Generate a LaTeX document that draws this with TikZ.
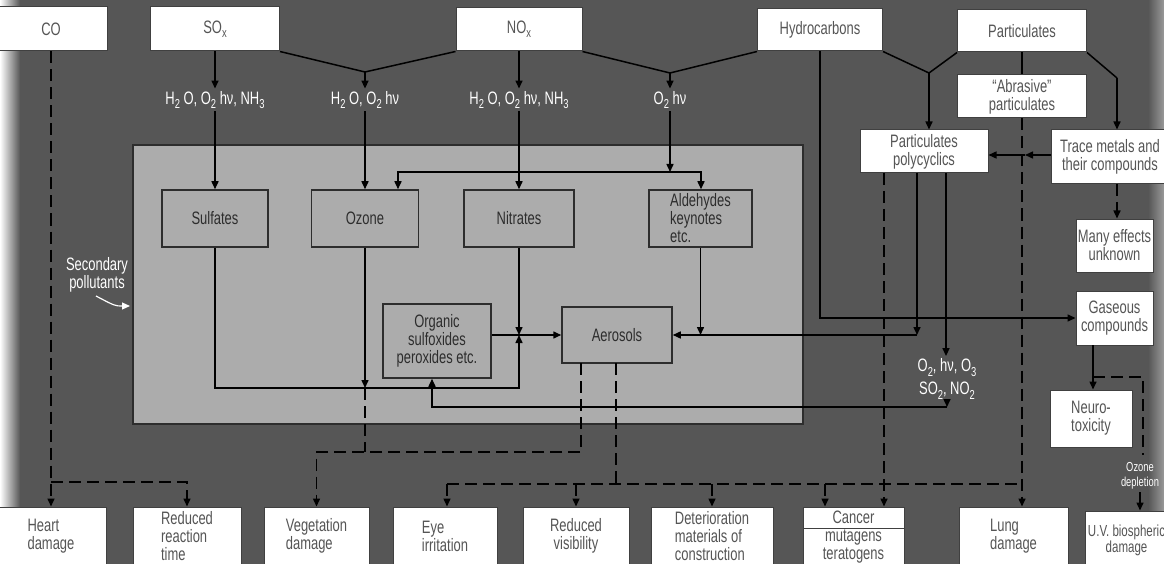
\documentclass[tikz,border=0pt]{standalone}
\usepackage{fontspec}
\setmainfont{Liberation Sans}[FakeStretch=0.72]
\usetikzlibrary{arrows.meta}
\definecolor{bgray}{RGB}{86,86,86}
\definecolor{lgray}{RGB}{172,172,172}
\definecolor{ink}{RGB}{45,45,45}
\definecolor{wink}{RGB}{85,85,85}
\newcommand{\lowsub}[1]{\raisebox{-0.45ex}{\fontsize{13}{13}\selectfont #1}}
\tikzset{every path/.style={line width=1.5pt}, >={Triangle[length=8pt,width=7pt]},
  every node/.style={font=\fontsize{18}{18}\selectfont, align=center, inner sep=0pt},
  wbox/.style={draw=black!75, line width=1pt, fill=white, text=wink},
  gbox/.style={draw=ink, line width=1.5pt, fill=lgray, text=ink},
  wlabel/.style={text=white, inner sep=2pt},
  dsh/.style={dash pattern=on 12pt off 6pt}}

\begin{document}
\begin{tikzpicture}[x=1pt, y=-1pt]
   \useasboundingbox (0,0) rectangle (1164,564);
   \fill[bgray] (0,0) rectangle (1164,564);
   \shade[left color=white, right color=bgray, draw=none] (0,0) rectangle (20,564);
   \shade[left color=bgray, right color=black!40, draw=none] (1148,0) rectangle (1164,564);

   \node[wbox, minimum width=112pt, minimum height=44pt] (co) at (51,29) {CO};
   \node[wbox, minimum width=129pt, minimum height=44pt] (sox) at (215,29) {SO\lowsub{x}};
   \node[wbox, minimum width=126pt, minimum height=43pt] (nox) at (519,29.5) {NO\lowsub{x}};
   \node[wbox, minimum width=125pt, minimum height=42pt] (hc) at (820,30) {Hydrocarbons};
   \node[wbox, minimum width=129pt, minimum height=42pt] (part) at (1022,31) {Particulates};
   \node[wbox, minimum width=129pt, minimum height=43pt] (abr) at (1022,96.5) {“Abrasive”\\particulates};
   \node[wbox, minimum width=128pt, minimum height=43pt] (poly) at (924,151.5) {Particulates\\polycyclics};
   \node[wbox, minimum width=118pt, minimum height=54pt] (trace) at (1110,157) {Trace metals and\\their compounds};
   \node[wbox, minimum width=77pt, minimum height=53pt] (many) at (1114.5,245.5) {Many effects\\unknown};
   \node[wbox, minimum width=77pt, minimum height=54pt] (gas) at (1114.5,318) {Gaseous\\compounds};
   \node[wbox, minimum width=82pt, minimum height=57pt] (neuro) at (1091,418.5) {Neuro-\\toxicity};

   \node[wlabel] (l1) at (215,100) {H\lowsub{2} O, O\lowsub{2} hν, NH\lowsub{3}};
   \node[wlabel] (l2) at (365,100) {H\lowsub{2} O, O\lowsub{2} hν};
   \node[wlabel] (l3) at (519,100) {H\lowsub{2} O, O\lowsub{2} hν, NH\lowsub{3}};
   \node[wlabel] (l4) at (670,100) {O\lowsub{2} hν};
   \node[wlabel, font=\fontsize{18}{23}\selectfont] (l5) at (947,379) {O\lowsub{2}, hν, O\lowsub{3}\\SO\lowsub{2}, NO\lowsub{2}};
   \node[wlabel] (secl) at (97,275) {Secondary\\pollutants};
   \node[wlabel, font=\fontsize{13}{15}\selectfont] (oz) at (1140,476) {Ozone\\depletion};

   \node[fill=lgray, draw=ink, line width=2pt, minimum width=670pt, minimum height=279pt] (sec) at (468,284.5) {};
   \node[gbox, minimum width=106pt, minimum height=57pt] (sulf) at (215,218.5) {Sulfates};
   \node[gbox, minimum width=107pt, minimum height=57pt] (ozone) at (365,218.5) {Ozone};
   \node[gbox, minimum width=110pt, minimum height=57pt] (nitr) at (519,218.5) {Nitrates};
   \node[gbox, minimum width=103pt, minimum height=57pt, align=left] (ald) at (700.5,218.5) {Aldehydes\\keynotes\\etc.};
   \node[gbox, minimum width=108pt, minimum height=74pt] (org) at (437,341) {Organic\\sulfoxides\\peroxides etc.};
   \node[gbox, minimum width=110pt, minimum height=56pt] (aero) at (617,335) {Aerosols};

   \node[wbox, minimum width=111pt, minimum height=58pt, align=left] (heart) at (51,536) {Heart\\damage};
   \node[wbox, minimum width=108pt, minimum height=58pt, align=left] (rrt) at (187,536) {Reduced\\reaction\\time};
   \node[wbox, minimum width=105pt, minimum height=58pt, align=left] (veg) at (316.5,536) {Vegetation\\damage};
   \node[wbox, minimum width=104pt, minimum height=58pt, align=left] (eye) at (445,536) {Eye\\irritation};
   \node[wbox, minimum width=106pt, minimum height=58pt] (vis) at (576,536) {Reduced\\visibility};
   \node[wbox, minimum width=122pt, minimum height=58pt, align=left] (det) at (712,536) {Deterioration\\materials of\\construction};
   \node[wbox, minimum width=101pt, minimum height=21pt] (canc) at (853.5,517.5) {Cancer};
   \node[wbox, minimum width=101pt, minimum height=37pt] (mut) at (853.5,546.5) {mutagens\\teratogens};
   \node[wbox, minimum width=109pt, minimum height=58pt, align=left] (lung) at (1013.5,536) {Lung\\damage};
   \node[wbox, minimum width=83pt, minimum height=58pt, font=\fontsize{16}{16}\selectfont] (uv) at (1126.5,540) {U.V. biospheric\\damage};

   \coordinate (j1) at (365,72);
   \coordinate (j2) at (670,73);
   \coordinate (j3) at (929,73);
   \coordinate (j4) at (1117,78);
   \draw (sox.south east) -- (j1) -- (nox.south west);
   \draw (nox.south east) -- (j2) -- (hc.south west);
   \draw (hc.south east) -- (j3) -- (part.south west);
   \draw (part.south east) -- (j4);
   \draw[->] (sox) -- (l1);
   \draw[->] (j1) -- (l2);
   \draw[->] (nox) -- (l3);
   \draw[->] (j2) -- (l4);
   \draw[->] (l1) -- (sulf);
   \draw[->] (l2) -- (ozone);
   \draw[->] (l3) -- (nitr);

   \coordinate (c1) at (670,172);
   \coordinate (c2) at (398,172);
   \coordinate (c3) at (701,172);
   \draw[->] (l4) -- (c1);
   \draw[->] (c1) -- (c2) -- (c2 |- ozone.north);
   \draw[->] (c1) -- (c3) -- (c3 |- ald.north);

   \coordinate (c4) at (519,335);
   \coordinate (c5) at (519,388);
   \coordinate (c6) at (365,388);
   \draw[->] (nitr) -- (c4);
   \draw[->] (sulf.south) |- (c5) -- (c4);
   \draw[->] (ozone) -- (c6);
   \draw[->] (org.east |- c4) -- (aero.west);
   \draw[->] (ald) -- (ald |- aero.east);

   \coordinate (p1) at (884,173);
   \coordinate (p2) at (917,173);
   \coordinate (p3) at (946,173);
   \coordinate (c7) at (917,335);
   \coordinate (c8) at (947,407);
   \coordinate (c9) at (432,407);
   \draw[->] (p2) -- (c7);
   \draw[->] (c7) -- (aero.east);
   \draw[->] (p3) -- (p3 |- l5.north);
   \draw[->] (l5) -- (c8);
   \draw[->] (c8) -- (c9) -- (c9 |- org.south);
   \draw[->] (hc.south) |- (gas.west);

   \draw (part) -- (abr);
   \draw[->] (j3) -- (j3 |- poly.north);
   \draw[->] (j4) -- (j4 |- trace.north);
   \coordinate (t1) at (1025,155);
   \coordinate (t2) at (1117,184);
   \draw[->] (trace.west |- t1) -- (t1);
   \draw[->] (t1) -- (t1 -| poly.east);
   \draw[dsh,->] (t2) -- (t2 |- many.north);
   \coordinate (g1) at (1093,345);
   \coordinate (g2) at (1093,377);
   \coordinate (g3) at (1143,455);
   \draw[->] (g1) -- (g1 |- neuro.north);
   \draw[dsh] (g2) -| (g3);
   \draw[->] (oz) -- (oz |- uv.north);

   \coordinate (k1) at (51,482);
   \coordinate (k2) at (187,482);
   \draw[dsh,->] (co) -- (heart);
   \draw[dsh,->] (k1) -- (k2) -- (rrt);
   \coordinate (d1) at (365,452);
   \coordinate (d2) at (316.5,452);
   \coordinate (a1) at (581,363);
   \coordinate (a2) at (616,363);
   \draw[dsh] (c6) -- (d1);
   \draw[dsh,->] (a1) |- (d2) -- (veg);
   \coordinate (h1) at (447,484);
   \coordinate (h2) at (1022,484);
   \coordinate (h3) at (825,484);
   \draw[dsh] (a2) -- (a2 |- h1);
   \draw[dsh] (h1) -- (h2);
   \draw[dsh,->] (h1) -- (h1 |- eye.north);
   \draw[dsh,->] (vis |- h1) -- (vis);
   \draw[dsh,->] (det |- h1) -- (det);
   \draw[dsh,->] (h3) -- (h3 |- canc.north);
   \draw[dsh,->] (p1) -- (p1 |- canc.north);
   \draw[dsh,->] (abr) -- (abr |- lung.north);

   \coordinate (s1) at (96,296);
   \coordinate (s2) at (130,306);
   \draw[white, line width=1.2pt, ->] (s1) .. controls (115,306) .. (s2);
\end{tikzpicture}
\end{document}
